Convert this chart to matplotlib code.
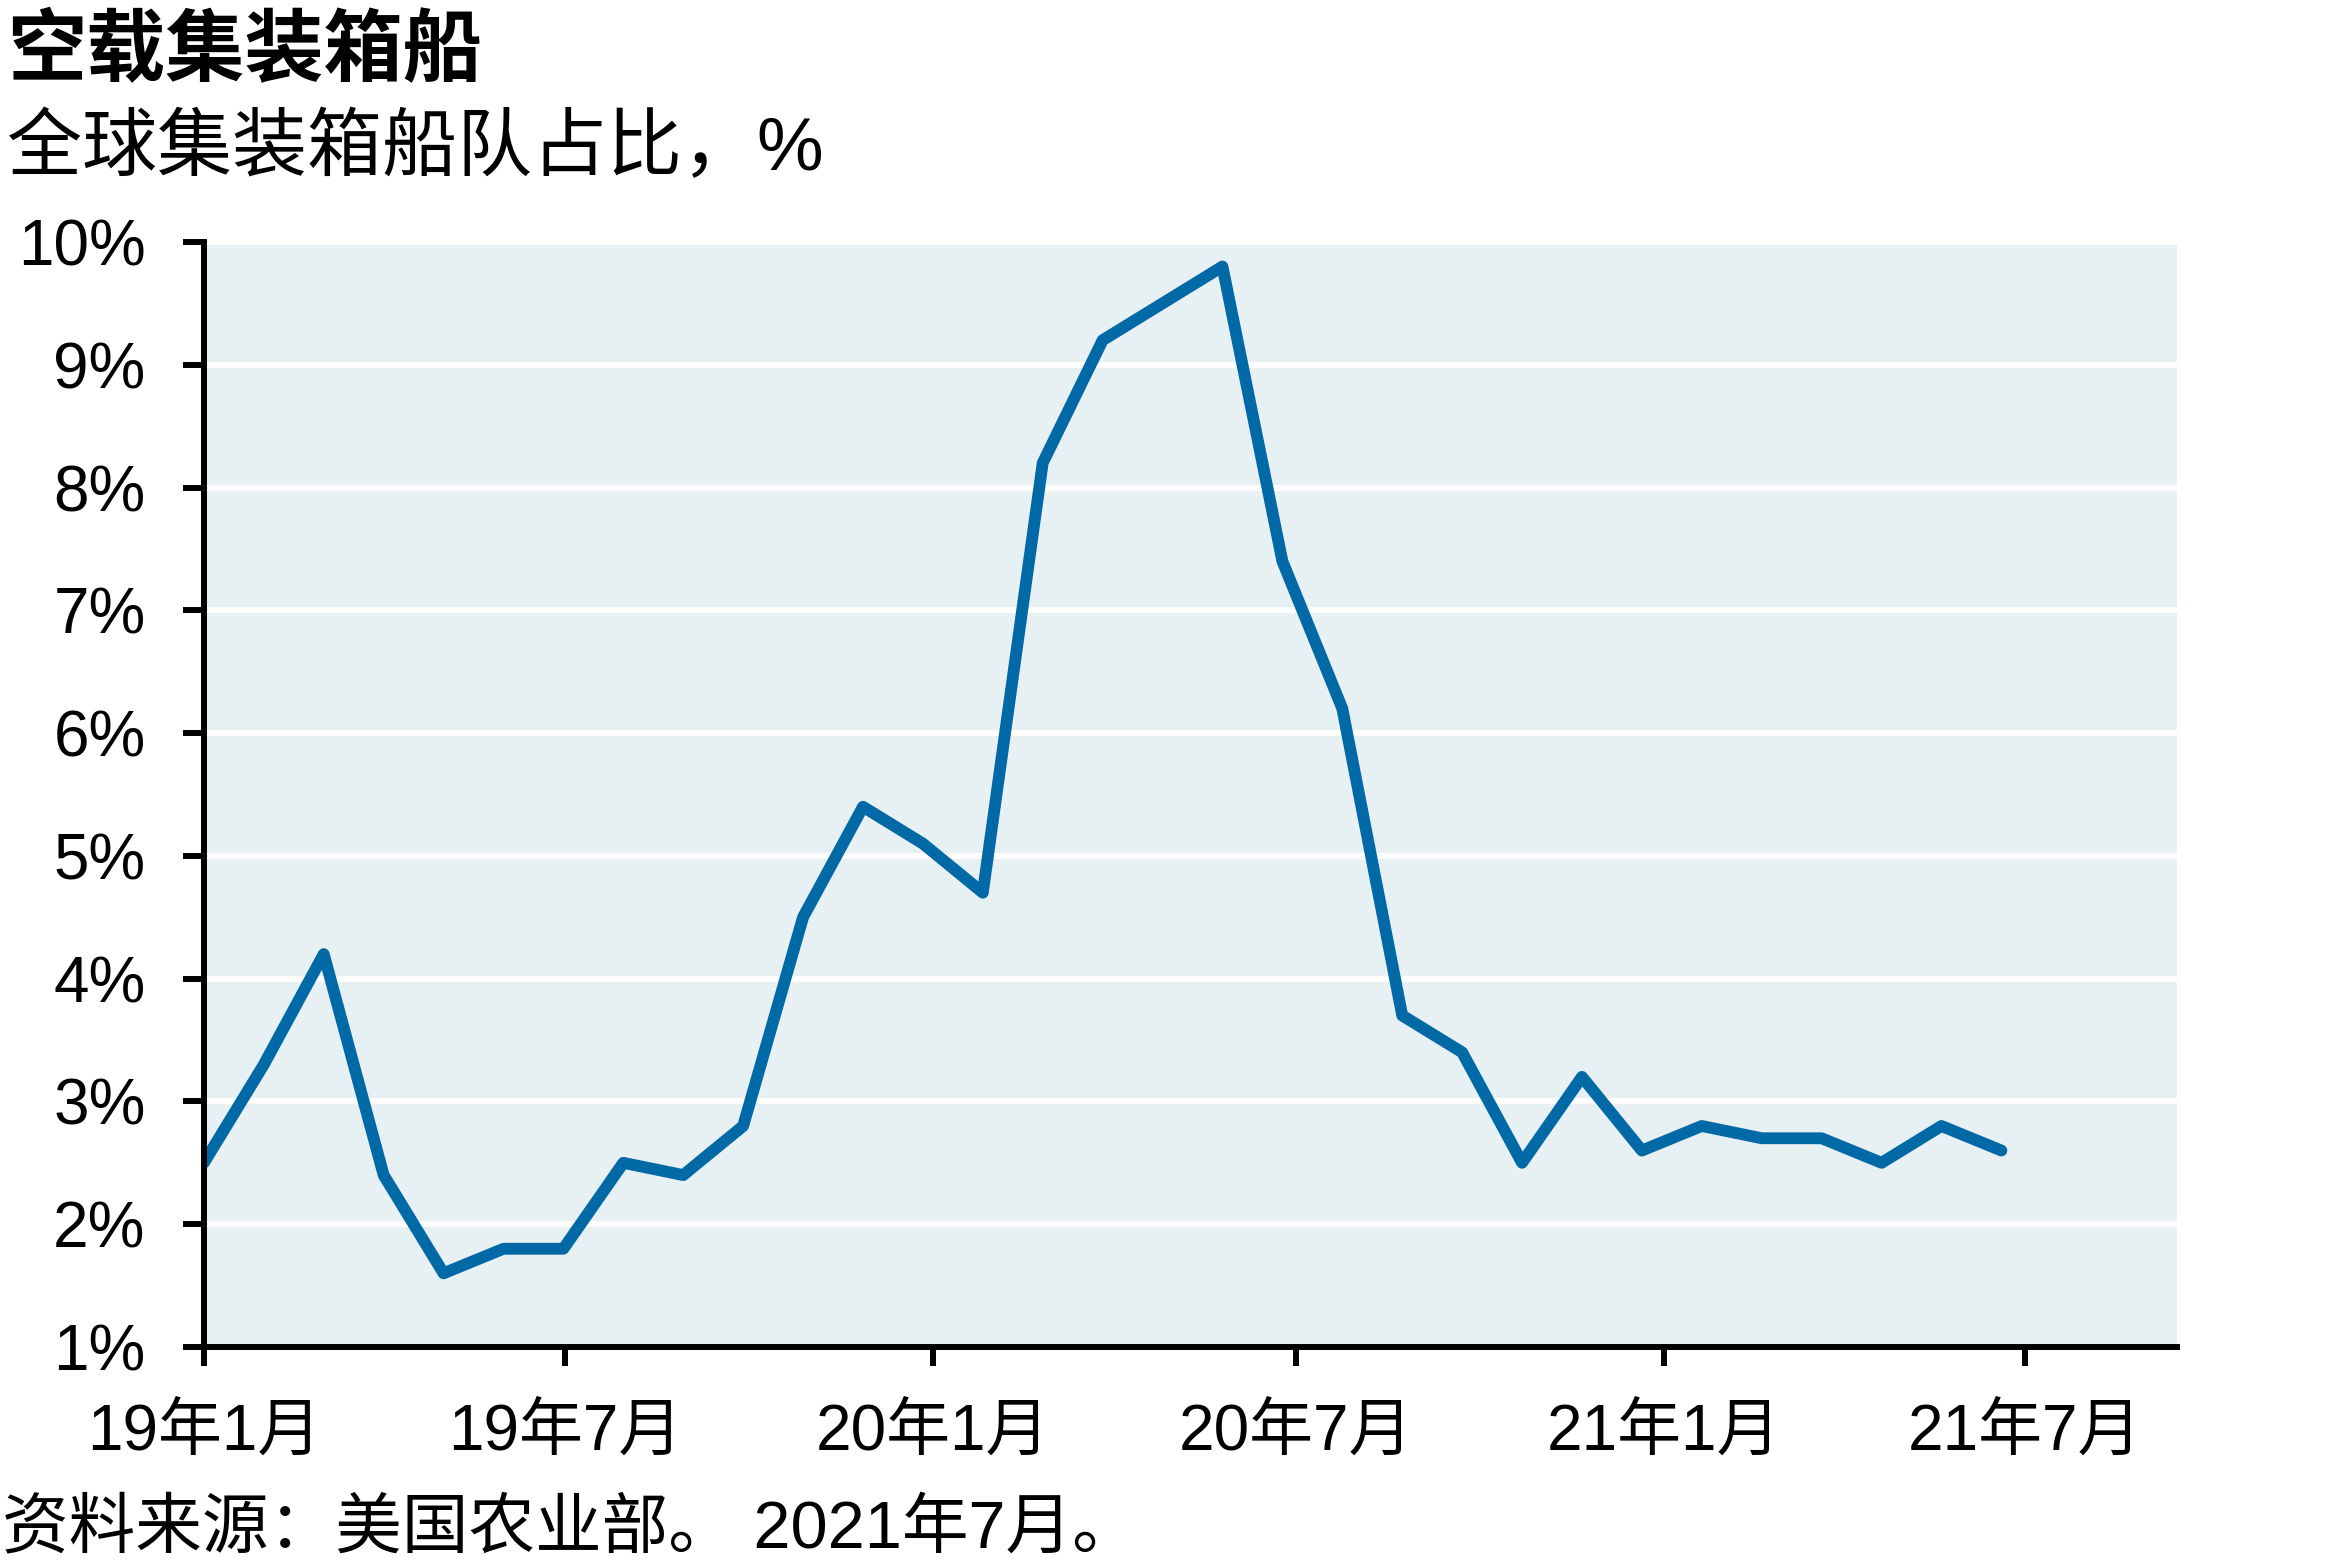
import numpy as np
import pandas as pd
import matplotlib
matplotlib.use("Agg")
import matplotlib.pyplot as plt

plt.rcParams['font.family'] = ['Liberation Sans', 'Noto Sans CJK SC']

# share of global container fleet sailing empty, %, sampled every 30 days from Jan 2019
start_date = "2019-01-01"
share = [2.5, 3.3, 4.2, 2.4, 1.6, 1.8, 1.8, 2.5, 2.4, 2.8,
         4.5, 5.4, 5.1, 4.7, 8.2, 9.2, 9.5, 9.8, 7.4, 6.2,
         3.7, 3.4, 2.5, 3.2, 2.6, 2.8, 2.7, 2.7, 2.5, 2.8, 2.6]
dates = pd.date_range(start_date, periods=len(share), freq="30D")

tick_dates = pd.to_datetime(["2019-01-01", "2019-07-01", "2020-01-01",
                             "2020-07-01", "2021-01-01", "2021-07-01"])
tick_labels = ["19年1月", "19年7月", "20年1月", "20年7月", "21年1月", "21年7月"]
y_ticks = [1, 2, 3, 4, 5, 6, 7, 8, 9, 10]
y_labels = ["%d%%" % v for v in y_ticks]

title = "空载集装箱船"
subtitle = "全球集装箱船队占比，%"
source = "资料来源：美国农业部。 2021年7月。"

fig = plt.figure(figsize=(23.41, 15.61), dpi=100)
ax = fig.add_axes([0.0871, 0.1371, 0.9300 - 0.0871, 0.845 - 0.1371])
ax.set_facecolor("#E7F0F3")

ax.plot(dates, share, color="#0069A6", lw=8.5, solid_capstyle="round",
        solid_joinstyle="round", zorder=3)

ax.set_ylim(1, 10)
ax.set_xlim(pd.Timestamp("2019-01-01"), pd.Timestamp("2021-09-15"))
ax.set_yticks(y_ticks)
ax.set_yticklabels(y_labels)
ax.set_xticks(tick_dates)
ax.set_xticklabels(tick_labels)

ax.grid(axis="y", color="white", lw=4.3, zorder=1)
ax.grid(axis="x", visible=False)
ax.set_axisbelow(True)

for s in ["top", "right"]:
    ax.spines[s].set_visible(False)
for s in ["left", "bottom"]:
    ax.spines[s].set_linewidth(4.3)
    ax.spines[s].set_color("black")
    ax.spines[s].set_zorder(4)

ax.tick_params(axis="y", direction="out", length=15, width=4.3, pad=27, labelsize=46)
ax.tick_params(axis="x", direction="out", length=14, width=4.3, pad=27, labelsize=46)

fig.text(0.003, 1 - 75 / 1561, title, fontsize=57, fontweight="bold", va="baseline", ha="left")
fig.text(0.003, 1 - 170 / 1561, subtitle, fontsize=54, va="baseline", ha="left")
fig.text(0.001, 1 - 1547 / 1561, source, fontsize=48, va="baseline", ha="left")

fig.savefig("out.png", dpi=100)
